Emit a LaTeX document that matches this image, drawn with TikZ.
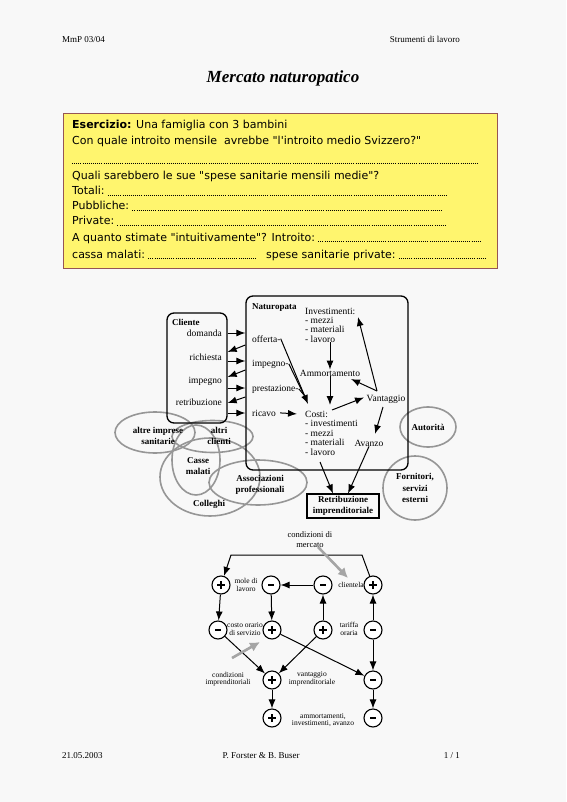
\documentclass[tikz,border=0pt]{standalone}
\usepackage{fontspec}
\setmainfont{Liberation Serif}
\newfontfamily\comicfont{DejaVu Sans}
\usetikzlibrary{arrows.meta,shapes.geometric,calc}
\definecolor{pagebg}{RGB}{248,248,248}
\definecolor{boxyellow}{RGB}{255,245,110}
\definecolor{boxedge}{RGB}{150,85,85}
\definecolor{ovalgray}{RGB}{150,150,150}
\definecolor{hintgray}{RGB}{165,165,165}
\tikzset{
  hdr/.style={font=\fontsize{9}{10}\selectfont, inner sep=0},
  ytext/.style={font=\comicfont\fontsize{11}{12}\selectfont, anchor=base west, inner sep=0},
  dotline/.style={line width=0.7pt, dash pattern=on 0.7pt off 1.4pt},
  lbl/.style={font=\fontsize{9.5}{9.5}\selectfont, inner sep=0},
  bl/.style={font=\bfseries\fontsize{9}{11.5}\selectfont, align=center, inner sep=0},
  arr/.style={-{Latex[length=9pt,width=7pt]}, line width=1pt},
  oval/.style={draw=ovalgray, line width=1.6pt},
  fbc/.style={circle, draw, line width=1.1pt, minimum size=18pt, inner sep=0, fill=white},
  sm/.style={font=\fontsize{7.5}{7.5}\selectfont, align=center, inner sep=0},
  grayarr/.style={draw=hintgray, line width=2.6pt, -{Latex[length=10pt,width=10pt]}},
  frame/.style={draw, line width=1.3pt, rounded corners=7pt, inner sep=0}
}
\newcommand{\mysign}{\raisebox{0.5pt}{\rule{5.5pt}{1.6pt}}}
\newcommand{\myplus}{\makebox[8pt]{\rule[2.3pt]{8pt}{1.6pt}\hspace{-4.8pt}\rule[-1pt]{1.6pt}{8pt}\hspace{3.2pt}}}
\begin{document}
\begin{tikzpicture}[x=1pt,y=-1pt]
\useasboundingbox (0,0) rectangle (566,802);
\fill[pagebg] (0,0) rectangle (566,802);

% header
\node[hdr, anchor=base west] (h1) at (62,43) {MmP 03/04};
\node[hdr, anchor=base east] (h2) at (460,43) {Strumenti di lavoro};
\node[font=\bfseries\itshape\fontsize{17}{17}\selectfont, inner sep=0] (title) at (283,78) {Mercato naturopatico};

% yellow exercise box
\node[draw=boxedge, fill=boxyellow, line width=0.8pt, minimum width=434pt, minimum height=155pt, inner sep=0] (ex) at (280,190.5) {};
\node[ytext] (l1) at (72,129) {\textbf{Esercizio:} Una famiglia con 3 bambini};
\node[ytext] (l2) at (72,145) {Con quale introito mensile \ avrebbe "l'introito medio Svizzero?"};
\coordinate (d1a) at (72,163); \coordinate (d1b) at (479,163);
\draw[dotline] (d1a) -- (d1b);
\node[ytext] (l3) at (72,180) {Quali sarebbero le sue "spese sanitarie mensili medie"?};
\node[ytext] (l4) at (72,195) {Totali:};
\node[ytext] (l5) at (72,210) {Pubbliche:};
\node[ytext] (l6) at (72,225) {Private:};
\node[ytext] (l7) at (72,241) {A quanto stimate "intuitivamente"? Introito:};
\node[ytext] (l8) at (72,258) {cassa malati:};
\node[ytext] (l9) at (266,258) {spese sanitarie private:};
\draw[dotline] ([xshift=3pt]l4.base east) -- (448,195);
\draw[dotline] ([xshift=3pt]l5.base east) -- (443,210);
\draw[dotline] ([xshift=3pt]l6.base east) -- (447,225);
\draw[dotline] ([xshift=3pt]l7.base east) -- (480,241);
\draw[dotline] ([xshift=3pt]l8.base east) -- (257,258);
\draw[dotline] ([xshift=3pt]l9.base east) -- (485,258);

% ovals
\draw[oval] (155,432.5) ellipse [x radius=40pt, y radius=20.5pt];
\draw[oval] (212.5,436.5) ellipse [x radius=40.5pt, y radius=16pt];
\draw[oval] (196,460) ellipse [x radius=24pt, y radius=35pt];
\draw[oval] (210,477) ellipse [x radius=50pt, y radius=39pt];
\draw[oval] (258,482.5) ellipse [x radius=49pt, y radius=22.5pt];
\draw[oval] (428,427) ellipse [x radius=28pt, y radius=20pt];
\draw[oval] (415,488) circle [radius=32pt];

\node[bl] (t_ai) at (158,436) {altre imprese\\sanitarie};
\node[bl] (t_ac) at (219,436) {altri\\clienti};
\node[bl] (t_cm) at (198,466) {Casse\\malati};
\node[bl] (t_as) at (260,485) {Associazioni\\professionali};
\node[bl] (t_col) at (209,504) {Colleghi};
\node[bl] (t_aut) at (428,427) {Autorità};
\node[bl] (t_forn) at (415,488) {Fornitori,\\servizi\\esterni};

% boxes
\node[frame, minimum width=60pt, minimum height=110pt] (cl) at (197,368) {};
\node[frame, minimum width=162pt, minimum height=174pt] (nat) at (327,383) {};

\node[lbl, font=\bfseries\fontsize{9}{9}\selectfont, anchor=base west] (clt) at (172,325) {Cliente};
\node[lbl, font=\bfseries\fontsize{9}{9}\selectfont, anchor=base west] (natt) at (252,309) {Naturopata};

\node[lbl, anchor=base east] (dom) at (222,336) {domanda};
\node[lbl, anchor=base east] (ric) at (222,360) {richiesta};
\node[lbl, anchor=base east] (imc) at (222,383) {impegno};
\node[lbl, anchor=base east] (ret) at (222,405) {retribuzione};

\node[lbl, anchor=base west] (off) at (252,342) {offerta-};
\node[lbl, anchor=base west] (imn) at (252,366) {impegno-};
\node[lbl, anchor=base west] (pre) at (252,391) {prestazione-};
\node[lbl, anchor=base west] (rca) at (252,416) {ricavo};

% arrows between Cliente and Naturopata
\draw[arr] (cl.east |- 0,333) -- (nat.west |- 0,333);
\draw[arr] (nat.west |- 0,345) -- (cl.east |- 0,352);
\draw[arr] (cl.east |- 0,361) -- (nat.west |- 0,361);
\draw[arr] (nat.west |- 0,370) -- (cl.east |- 0,377);
\draw[arr] (cl.east |- 0,388) -- (nat.west |- 0,388);
\draw[arr] (nat.west |- 0,397) -- (cl.east |- 0,403);
\draw[arr] (cl.east |- 0,413) -- (nat.west |- 0,413);

% Naturopata inner
\node[lbl, anchor=base west] (inv) at (305,314) {Investimenti:};
\node[lbl, anchor=base west] (inv1) at (305,323) {- mezzi};
\node[lbl, anchor=base west] (inv2) at (305,332.5) {- materiali};
\node[lbl, anchor=base west] (inv3) at (305,342) {- lavoro};
\node[lbl] (am) at (330,373) {Ammortamento};
\node[lbl] (va) at (386,399) {Vantaggio};
\node[lbl] (av) at (369,443) {Avanzo};
\node[lbl, anchor=base west] (co) at (305,417) {Costi:};
\node[lbl, anchor=base west] (co1) at (305,426.5) {- investimenti};
\node[lbl, anchor=base west] (co2) at (305,436) {- mezzi};
\node[lbl, anchor=base west] (co3) at (305,445.5) {- materiali};
\node[lbl, anchor=base west] (co4) at (305,455) {- lavoro};

\node[draw, line width=1.2pt, bl, minimum width=72pt, minimum height=24pt] (retr) at (343,506) {Retribuzione\\imprenditoriale};

\coordinate (cotip) at (308,404);
\coordinate (ijoin) at (304.5,396);
\coordinate (pjoin) at (304,395);
\draw[arr] (off.east) -- (cotip);
\draw[line width=1pt] (imn.east) -- (ijoin);
\draw[line width=1pt] (pre.east) -- (pjoin);
\draw[arr] ([xshift=4pt]rca.east) -- ([xshift=-8pt]co.west);
\draw[arr] (inv3.south -| am) -- (am.north);
\draw[arr] (am.south) -- (330,405);
\coordinate (vaw) at (377,391);
\draw[arr] (vaw) -- (358,317);
\draw[arr] (vaw) -- (351,379);
\draw[arr] (332,410) -- (364,397.5);
\draw[arr] (383,407) -- (375,434);
\draw[arr] (av.south) -- (348,493.5);
\draw[arr] (320,462) -- (333,493.5);

% feedback diagram
\node[fbc] (A1) at (221,585) {\myplus};
\node[fbc] (A2) at (271,585) {\mysign};
\node[fbc] (A3) at (323,585) {\mysign};
\node[fbc] (A4) at (373,585) {\myplus};
\node[fbc] (B1) at (218,630) {\mysign};
\node[fbc] (B2) at (272,630) {\myplus};
\node[fbc] (B3) at (323,630) {\myplus};
\node[fbc] (B4) at (373,630) {\mysign};
\node[fbc] (C1) at (272,680) {\myplus};
\node[fbc] (C2) at (373,680) {\mysign};
\node[fbc] (D1) at (272,718) {\myplus};
\node[fbc] (D2) at (373,718) {\mysign};

\node[sm] (tmole) at (246,585) {mole di\\lavoro};
\node[sm] (tcli) at (351,585) {clientela};
\node[sm] (tcos) at (245,629) {costo orario\\di servizio};
\node[sm] (ttar) at (349,629) {tariffa\\oraria};
\node[sm] (tci) at (228,679) {condizioni\\imprenditoriali};
\node[sm] (tvi) at (312,679) {vantaggio\\imprenditoriale};
\node[sm] (tamm) at (323,720) {ammortamenti,\\investimenti, avanzo};
\node[sm, font=\fontsize{8.5}{10}\selectfont] (tcm) at (310,540) {condizioni di\\mercato};

\coordinate (tr) at (362,555);
\coordinate (tl) at (231,555);
\draw[arr] (A4) -- (tr) -- (tl) -- (A1);
\draw[arr] (A3) -- (A2);
\draw[arr] (B3) -- (A3);
\draw[arr] (B4) -- (A4);
\draw[arr] (A1) -- (B1);
\draw[arr] (A2) -- (B2);
\draw[arr] (B1) -- (C1);
\draw[arr] (B3) -- (C1);
\draw[arr] (B2) -- (C2);
\draw[arr] (B4) -- (C2);
\draw[arr] (C1) -- (D1);
\draw[arr] (C2) -- (D2);

\coordinate (gm1) at (318,547);
\coordinate (gm2) at (348,578);
\draw[grayarr] (gm1) -- (gm2);
\coordinate (gi1) at (232,658);
\coordinate (gi2) at (260,642);
\draw[grayarr] (gi1) -- (gi2);

% footer
\node[hdr, anchor=base west] (f1) at (62,758) {21.05.2003};
\node[hdr, anchor=base] (f2) at (261,758) {P. Forster \& B. Buser};
\node[hdr, anchor=base east] (f3) at (460,758) {1 / 1};
\end{tikzpicture}
\end{document}
